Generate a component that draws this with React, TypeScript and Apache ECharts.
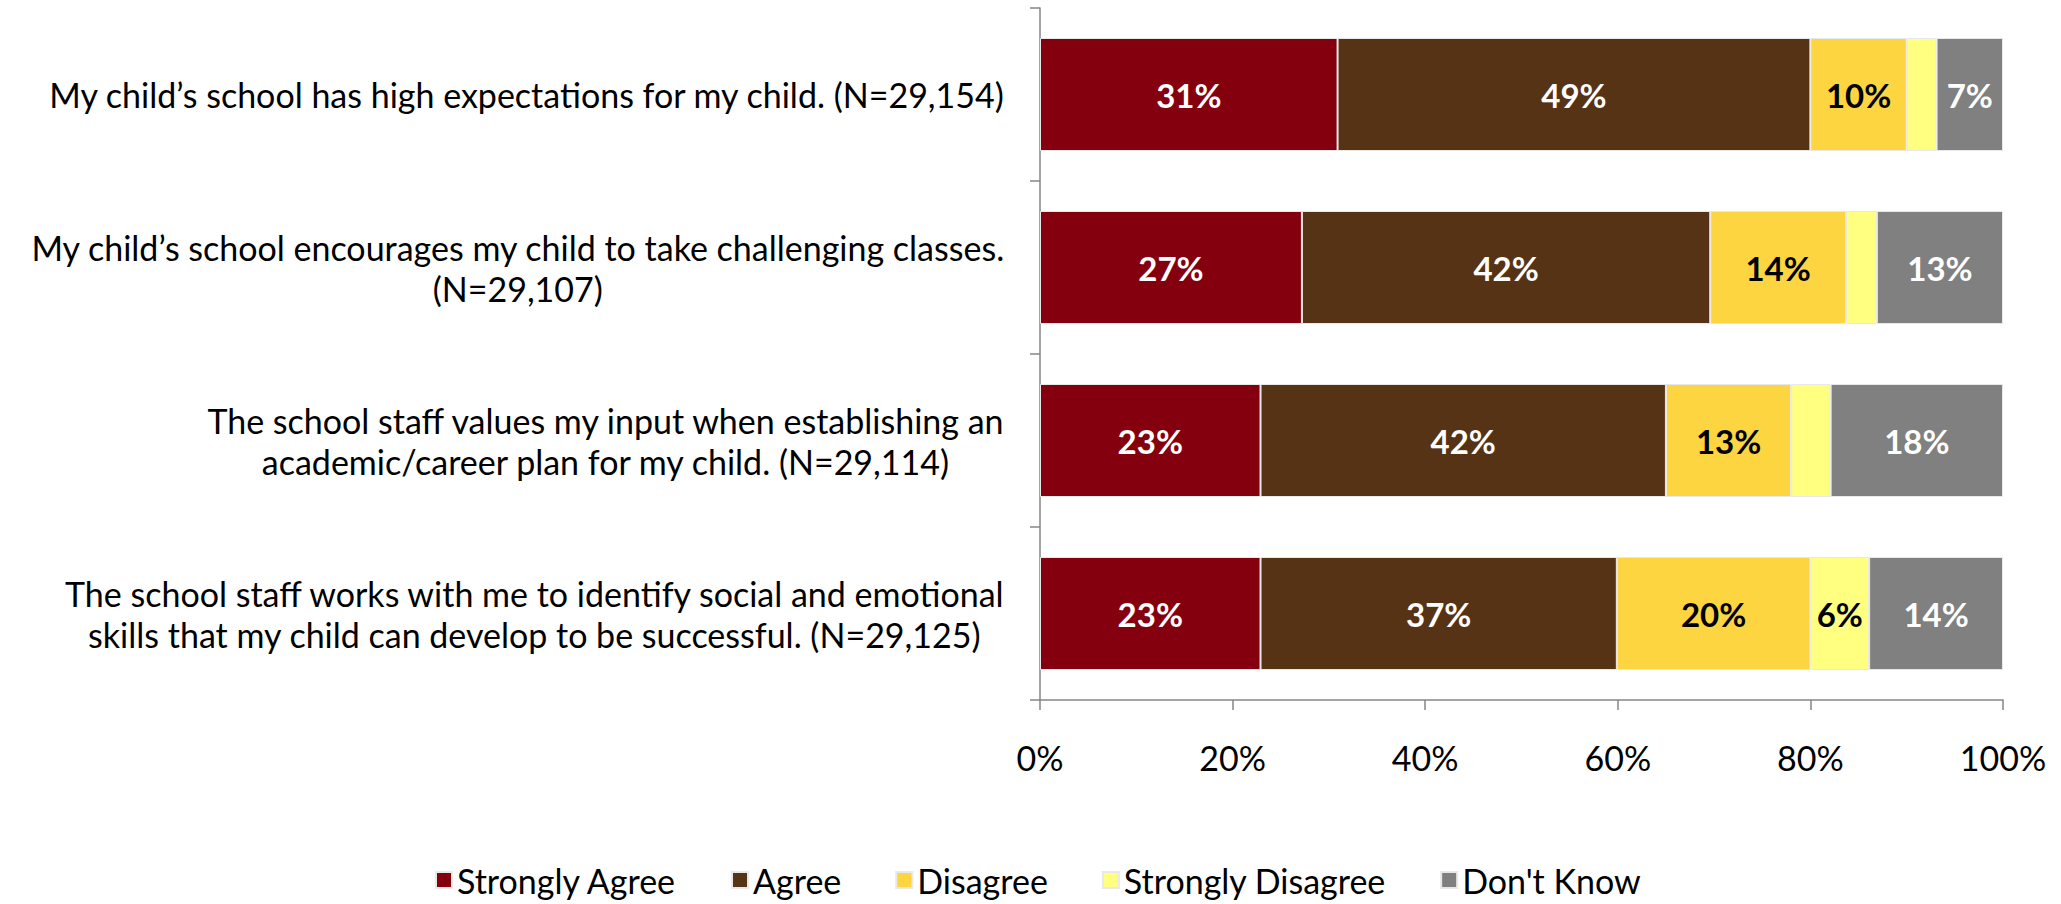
import React, { useEffect, useRef } from "react";
import * as echarts from "echarts";

const categories = [
  "My child’s school has high expectations for my child. (N=29,154)",
  "My child’s school encourages my child to take challenging classes.\n(N=29,107)",
  "The school staff values my input when establishing an\nacademic/career plan for my child. (N=29,114)",
  "The school staff works with me to identify social and emotional\nskills that my child can develop to be successful. (N=29,125)",
];

const seriesNames = ["Strongly Agree", "Agree", "Disagree", "Strongly Disagree", "Don't Know"];
const stronglyAgree = [30.9, 27.2, 22.9, 22.9];
const agree = [49.1, 42.4, 42.1, 37.0];
const disagree = [10.0, 14.1, 13.0, 20.1];
const stronglyDisagree = [3.1, 3.2, 4.1, 6.1];
const dontKnow = [6.9, 13.1, 17.9, 13.9];

const xTicks = [0, 20, 40, 60, 80, 100];

const colors = ["#84000E", "#573316", "#FCD540", "#FFFF80", "#808080"];
const labelColors = ["#ffffff", "#ffffff", "#000000", "#000000", "#ffffff"];

const FONT = "Lato, 'Open Sans', sans-serif";

export default function App() {
  const ref = useRef<HTMLDivElement>(null);
  useEffect(() => {
    if (!ref.current) return;
    const chart = echarts.init(ref.current, undefined, { renderer: "svg" });
    const values = [stronglyAgree, agree, disagree, stronglyDisagree, dontKnow];
    chart.setOption({
      animation: false,
      textStyle: { fontFamily: FONT },
      grid: { left: 1040, right: 58, top: 8, bottom: 204, containLabel: false },
      legend: {
        data: seriesNames,
        left: 435,
        top: 862,
        padding: 0,
        icon: "rect",
        itemWidth: 16,
        itemHeight: 16,
        itemGap: 54,
        textStyle: { fontFamily: FONT, fontSize: 34, lineHeight: 36, color: "#000" },
      },
      xAxis: {
        type: "value",
        min: xTicks[0],
        max: xTicks[xTicks.length - 1],
        interval: 20,
        axisLine: { show: true, lineStyle: { color: "#868686", width: 1.5 } },
        axisTick: { show: true, length: 10, lineStyle: { color: "#868686", width: 1.5 } },
        splitLine: { show: false },
        axisLabel: {
          margin: 40,
          formatter: "{value}%",
          fontFamily: FONT,
          fontSize: 34,
          color: "#000",
        },
      },
      yAxis: {
        type: "category",
        inverse: true,
        data: categories,
        axisLine: { show: true, lineStyle: { color: "#868686", width: 1.5 } },
        axisTick: { show: true, length: 10, lineStyle: { color: "#868686", width: 1.5 } },
        axisLabel: {
          margin: 35,
          align: "right",
          color: "#000",
          fontFamily: FONT,
          fontSize: 34,
          formatter: (v: string) =>
            v
              .split("\n")
              .map((l) => `{c|${l}}`)
              .join("\n"),
          rich: {
            c: { align: "center", fontFamily: FONT, fontSize: 34, lineHeight: 41, color: "#000" },
          },
        },
      },
      series: seriesNames.map((name, i) => ({
        name,
        type: "bar",
        stack: "total",
        barWidth: 113,
        data: values[i],
        itemStyle: { color: colors[i], borderColor: "#e8e8e8", borderWidth: 1 },
        label: {
          show: true,
          position: "inside",
          fontFamily: FONT,
          fontWeight: "bold",
          fontSize: 33,
          color: labelColors[i],
          formatter: (p: any) => (p.value >= 5 ? `${Math.round(p.value)}%` : ""),
        },
      })),
    });
    return () => chart.dispose();
  }, []);
  return (
    <div
      ref={ref}
      style={{ position: "absolute", left: 0, top: 0, width: 2061, height: 904 }}
    />
  );
}
